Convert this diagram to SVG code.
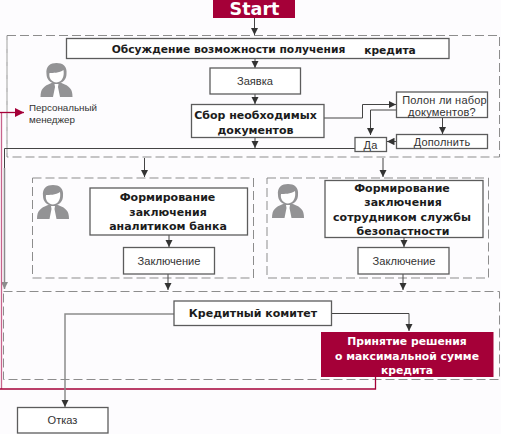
<svg xmlns="http://www.w3.org/2000/svg" width="531" height="434" viewBox="0 0 531 434">
<style>
text{font-family:"DejaVu Sans","Liberation Sans",sans-serif;text-anchor:middle;fill:#2e2e2e}
.b{font-weight:bold;font-size:11px;fill:#1c1c1c}
.t{font-size:10.700px}
.r{font-family:"Liberation Sans",Arial,sans-serif;font-size:11.100px;fill:#333}
.s{font-size:11px;letter-spacing:.2px}
.m{font-size:9.800px}
.w{font-weight:bold;font-size:10.800px;fill:#fff}
.box{fill:#fff;stroke:#5c5c5c;stroke-width:1.3}
.dash{fill:none;stroke:#8d8d8d;stroke-width:1;stroke-dasharray:9 4}
.ln{fill:none;stroke:#444;stroke-width:1}
.gr{fill:none;stroke:#8c8c8c;stroke-width:1.500}
.cr{fill:none;stroke:#a50038;stroke-width:1.300}
.pk{fill:none;stroke:#c8648c;stroke-width:1.300}
</style>
<defs>
<marker id="a" viewBox="0 0 8 8" refX="8" refY="4" markerWidth="7.500" markerHeight="7.500" markerUnits="userSpaceOnUse" orient="auto"><path d="M0 0L8 4L0 8Z" fill="#333"/></marker>
<marker id="g" viewBox="0 0 8 8" refX="8" refY="4" markerWidth="7" markerHeight="7" markerUnits="userSpaceOnUse" orient="auto"><path d="M0 0L8 4L0 8Z" fill="#8c8c8c"/></marker>
<marker id="p" viewBox="0 0 8 8" refX="8" refY="4" markerWidth="10" markerHeight="9" markerUnits="userSpaceOnUse" orient="auto"><path d="M0 0L8 4L0 8Z" fill="#a50038"/></marker>
<symbol id="person" width="32" height="34" viewBox="0 0 32 34" overflow="visible">
<path d="M0 34C0 26 3 23 11 20H21C29 23 32 26 32 34Z" fill="#939395"/>
<path d="M6 11C5 3 10 0 16 0S27 3 26 11C26 16 23 20 16 21C9 20 6 16 6 11Z" fill="#939395"/>
<path d="M9 10C12 10 19 10 23 7C24 13 22 19 16 19.500C11 19 8 15 9 10Z" fill="#fff"/>
<path d="M14 21H18L17.500 24L19.500 34H12.500L14.500 24Z" fill="#fff"/>
</symbol>
</defs>
<rect x="0" y="0" width="501" height="434" fill="#fdfcfe"/>
<g id="containers">
<rect class="dash" x="7" y="35.500" width="492.500" height="121.500"/>
<rect class="dash" x="32.500" y="178" width="221" height="100"/>
<rect class="dash" x="267" y="178" width="221.500" height="100"/>
<rect class="dash" x="3.500" y="291.500" width="496" height="88"/>
<path d="M7 40V157" fill="none" stroke="#cfcfcf" stroke-width="2" stroke-dasharray="9 4"/>
</g>
<g id="connectors">
<path class="ln" d="M254.500 18V35" marker-end="url(#a)"/>
<path class="ln" d="M255 58V68" marker-end="url(#a)"/>
<path class="ln" d="M255 94V104" marker-end="url(#a)"/>
<path class="ln" d="M255 137.500V148" marker-end="url(#a)"/>
<path class="ln" d="M324 118H362.500V104.500H396" marker-end="url(#a)"/>
<path class="ln" d="M396.500 110H370.500V135" marker-end="url(#a)"/>
<path class="ln" d="M442.500 117.500V134" marker-end="url(#a)"/>
<path class="ln" d="M396 141.500H387" marker-end="url(#a)"/>
<path class="ln" d="M355 148.500H4.500V168"/>
<path class="gr" d="M4.500 168V289" marker-end="url(#g)"/>
<path class="pk" d="M1.500 389V112.500"/>
<path class="cr" d="M0 112.500H24" marker-end="url(#p)"/>
<path class="cr" d="M375.500 377V389H0"/>
<path class="ln" d="M144.500 158V177" marker-end="url(#a)"/>
<path class="ln" d="M383 158V177" marker-end="url(#a)"/>
<path class="ln" d="M169 235V247" marker-end="url(#a)"/>
<path class="ln" d="M168 274V290" marker-end="url(#a)"/>
<path class="ln" d="M404 237.500V247" marker-end="url(#a)"/>
<path class="ln" d="M403 274V290" marker-end="url(#a)"/>
<path class="gr" d="M174 314H65V407" marker-end="url(#a)"/>
<path class="ln" d="M331.500 313.500H409V331" marker-end="url(#a)"/>
</g>
<g id="start"><rect x="213" y="0" width="82" height="18" fill="#a50038"/><text x="254.500" y="15" style="font-weight:bold;font-size:17.500px;fill:#fff">Start</text></g>
<g id="discussion"><rect class="box" x="66.500" y="38.500" width="382.500" height="20"/><text class="b t" x="228.500" y="52.500">Обсуждение возможности получения</text><text class="b t" x="390" y="53.500">кредита</text></g>
<g id="application"><rect class="box" x="210" y="68" width="90.500" height="26"/><text class="r" x="255" y="85">Заявка</text></g>
<g id="collect"><rect class="box" x="191.500" y="104.500" width="132.500" height="33"/><text class="b" x="255.500" y="119">Сбор необходимых</text><text class="b" x="255.500" y="133.500">документов</text></g>
<g id="check"><rect class="box" x="396.500" y="92" width="91" height="25.500"/><text class="r s" x="444.500" y="103.500">Полон ли набор</text><text class="r s" x="442" y="116">документов?</text></g>
<g id="complete"><rect class="box" x="396.500" y="134.500" width="91" height="14"/><text class="r s" x="442" y="146">Дополнить</text></g>
<g id="yes"><rect class="box" x="355" y="137.500" width="31.500" height="14"/><text class="r s" x="370.500" y="149">Да</text></g>
<g id="manager"><use href="#person" x="40.500" y="63"/><text class="r m" x="29" y="111" style="text-anchor:start">Персональный</text><text class="r m" x="29" y="123" style="text-anchor:start">менеджер</text></g>
<g id="analyst"><use href="#person" x="37" y="185"/><rect class="box" x="90" y="188" width="157.500" height="47"/><text class="b" x="167.500" y="201">Формирование</text><text class="b" x="168" y="216">заключения</text><text class="b" x="168" y="230">аналитиком банка</text></g>
<g id="conclusion-a"><rect class="box" x="123.500" y="247.500" width="91" height="26.500"/><text class="r" x="169" y="264.500">Заключение</text></g>
<g id="security"><use href="#person" x="272" y="184"/><rect class="box" x="325" y="180.500" width="158" height="57"/><text class="b" x="402" y="191.500">Формирование</text><text class="b" x="403" y="206">заключения</text><text class="b" x="402" y="220.500">сотрудником службы</text><text class="b" x="403" y="235">безопастности</text></g>
<g id="conclusion-b"><rect class="box" x="358" y="247.500" width="91" height="26.500"/><text class="r" x="404" y="264.500">Заключение</text></g>
<g id="committee"><rect class="box" x="174" y="301" width="157.500" height="24.500"/><text class="b" x="253" y="317">Кредитный комитет</text></g>
<g id="decision"><rect x="321" y="332" width="172.500" height="45" fill="#a50038"/><text class="w" x="407" y="345">Принятие решения</text><text class="w" x="407" y="360">о максимальной сумме</text><text class="w" x="407" y="374">кредита</text></g>
<g id="refusal"><rect class="box" x="17.500" y="407.500" width="90.500" height="25.500"/><text class="r" x="62.500" y="424">Отказ</text></g>
</svg>
